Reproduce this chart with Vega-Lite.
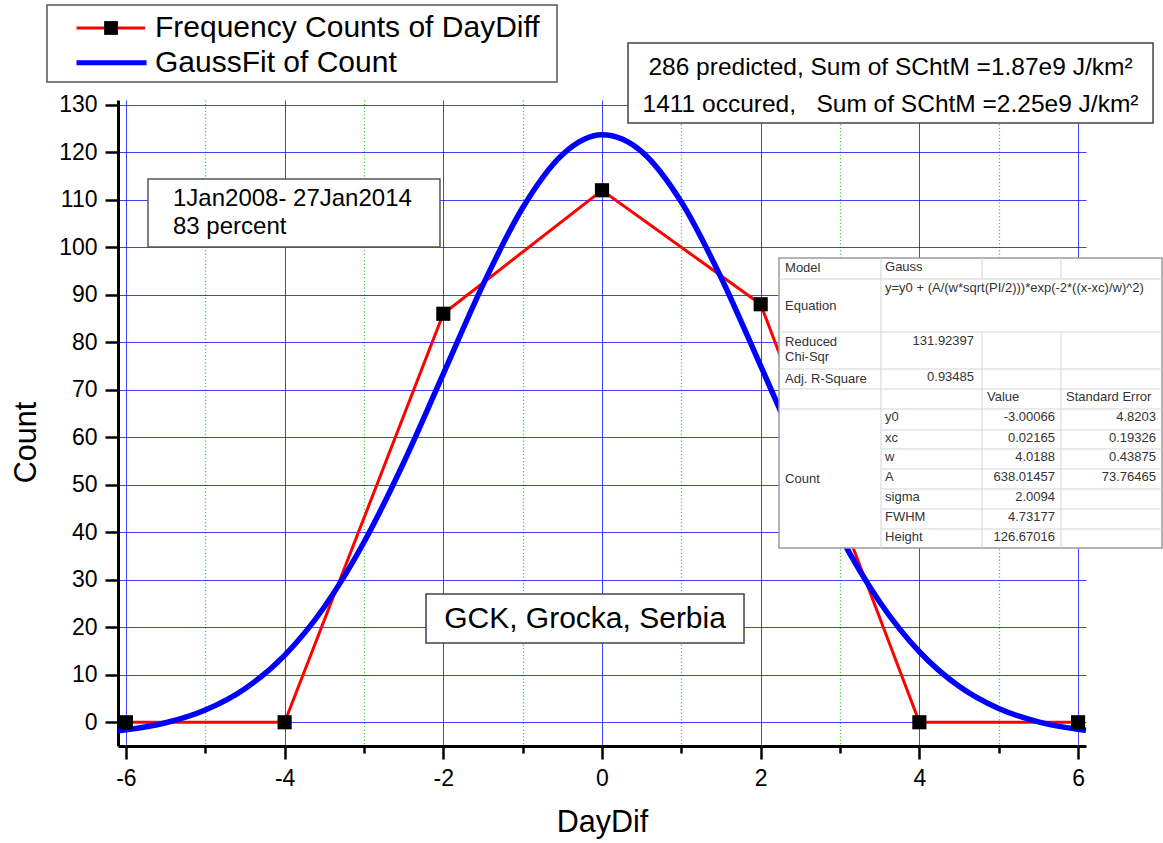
{
  "$schema": "https://vega.github.io/schema/vega-lite/v6.json",
  "width": 968,
  "height": 646,
  "autosize": {"type": "none"},
  "padding": {"left": 118, "top": 100, "right": 77, "bottom": 97},
  "background": "white",
  "config": {"view": {"stroke": null}, "font": "Liberation Sans"},
  "datasets": {
    "freq": [
      {"DayDif": -6, "Count": 0},
      {"DayDif": -4, "Count": 0},
      {"DayDif": -2, "Count": 86},
      {"DayDif": 0, "Count": 112},
      {"DayDif": 2, "Count": 88},
      {"DayDif": 4, "Count": 0},
      {"DayDif": 6, "Count": 0}
    ],
    "gauss": [
      {"DayDif": -6.1, "Count": -1.78},
      {"DayDif": -6.0, "Count": -1.58},
      {"DayDif": -5.5, "Count": -0.10},
      {"DayDif": -5.0, "Count": 2.58},
      {"DayDif": -4.5, "Count": 7.07},
      {"DayDif": -4.0, "Count": 14.09},
      {"DayDif": -3.5, "Count": 24.27},
      {"DayDif": -3.0, "Count": 37.89},
      {"DayDif": -2.5, "Count": 54.64},
      {"DayDif": -2.0, "Count": 73.36},
      {"DayDif": -1.5, "Count": 92.09},
      {"DayDif": -1.0, "Count": 108.31},
      {"DayDif": -0.5, "Count": 119.47},
      {"DayDif": 0.0, "Count": 123.66},
      {"DayDif": 0.5, "Count": 120.13},
      {"DayDif": 1.0, "Count": 109.51},
      {"DayDif": 1.5, "Count": 93.64},
      {"DayDif": 2.0, "Count": 75.02},
      {"DayDif": 2.5, "Count": 56.20},
      {"DayDif": 3.0, "Count": 39.23},
      {"DayDif": 3.5, "Count": 25.31},
      {"DayDif": 4.0, "Count": 14.84},
      {"DayDif": 4.5, "Count": 7.57},
      {"DayDif": 5.0, "Count": 2.89},
      {"DayDif": 5.5, "Count": 0.08},
      {"DayDif": 6.0, "Count": -1.49},
      {"DayDif": 6.1, "Count": -1.70}
    ],
    "tgrid": [
      {"x": 2.231, "x2": 7.058, "y": 93.32, "y2": 93.32},
      {"x": 2.231, "x2": 7.058, "y": 82.16, "y2": 82.16},
      {"x": 2.231, "x2": 7.058, "y": 74.37, "y2": 74.37},
      {"x": 2.231, "x2": 7.058, "y": 70.16, "y2": 70.16},
      {"x": 2.231, "x2": 7.058, "y": 65.95, "y2": 65.95},
      {"x": 3.516, "x2": 7.058, "y": 61.53, "y2": 61.53},
      {"x": 3.516, "x2": 7.058, "y": 57.53, "y2": 57.53},
      {"x": 3.516, "x2": 7.058, "y": 53.32, "y2": 53.32},
      {"x": 3.516, "x2": 7.058, "y": 49.11, "y2": 49.11},
      {"x": 3.516, "x2": 7.058, "y": 44.89, "y2": 44.89},
      {"x": 3.516, "x2": 7.058, "y": 40.68, "y2": 40.68},
      {"x": 3.516, "x2": 3.516, "y": 97.74, "y2": 36.68},
      {"x": 4.789, "x2": 4.789, "y": 97.74, "y2": 93.32},
      {"x": 4.789, "x2": 4.789, "y": 82.16, "y2": 36.68},
      {"x": 5.785, "x2": 5.785, "y": 97.74, "y2": 93.32},
      {"x": 5.785, "x2": 5.785, "y": 82.16, "y2": 36.68}
    ],
    "tleft": [
      {"t": "Model", "x": 2.307, "y": 95.63},
      {"t": "Gauss", "x": 3.567, "y": 95.75},
      {"t": "y=y0 + (A/(w*sqrt(PI/2)))*exp(-2*((x-xc)/w)^2)", "x": 3.567, "y": 91.42},
      {"t": "Equation", "x": 2.307, "y": 87.63},
      {"t": "Reduced", "x": 2.307, "y": 80.05},
      {"t": "Chi-Sqr", "x": 2.307, "y": 76.89},
      {"t": "Adj. R-Square", "x": 2.307, "y": 72.26},
      {"t": "Value", "x": 4.852, "y": 68.47},
      {"t": "Standard Error", "x": 5.848, "y": 68.47},
      {"t": "Count", "x": 2.307, "y": 51.21},
      {"t": "y0", "x": 3.567, "y": 64.26},
      {"t": "xc", "x": 3.567, "y": 59.84},
      {"t": "w", "x": 3.567, "y": 55.84},
      {"t": "A", "x": 3.567, "y": 51.63},
      {"t": "sigma", "x": 3.567, "y": 47.42},
      {"t": "FWHM", "x": 3.567, "y": 43.21},
      {"t": "Height", "x": 3.567, "y": 39.0}
    ],
    "tright": [
      {"t": "131.92397", "x": 4.689, "y": 80.26},
      {"t": "0.93485", "x": 4.689, "y": 72.68},
      {"t": "-3.00066", "x": 5.709, "y": 64.26},
      {"t": "0.02165", "x": 5.709, "y": 59.84},
      {"t": "4.0188", "x": 5.709, "y": 55.84},
      {"t": "638.01457", "x": 5.709, "y": 51.63},
      {"t": "2.0094", "x": 5.709, "y": 47.42},
      {"t": "4.73177", "x": 5.709, "y": 43.21},
      {"t": "126.67016", "x": 5.709, "y": 39.0},
      {"t": "4.8203", "x": 6.982, "y": 64.26},
      {"t": "0.19326", "x": 6.982, "y": 59.84},
      {"t": "0.43875", "x": 6.982, "y": 55.84},
      {"t": "73.76465", "x": 6.982, "y": 51.63}
    ]
  },
  "layer": [
    {
      "data": {"name": "freq"},
      "mark": {"type": "line", "color": "#ff0000", "strokeWidth": 3},
      "encoding": {
        "x": {
          "field": "DayDif", "type": "quantitative", "title": "DayDif",
          "scale": {"domain": [-6.1, 6.1], "nice": false, "zero": false},
          "axis": {
            "title": "DayDif",
            "values": [-6, -5, -4, -3, -2, -1, 0, 1, 2, 3, 4, 5, 6],
            "labelExpr": "datum.value % 2 === 0 ? '' + datum.value : ''",
            "labelOverlap": false, "labelFlush": false,
            "labelFont": "Liberation Sans", "labelFontSize": 23, "labelColor": "#000000", "labelPadding": 8,
            "titleFont": "Liberation Sans", "titleFontSize": 30.5, "titleFontWeight": "normal", "titleColor": "#000000", "titlePadding": 17,
            "domainColor": "#000000", "domainWidth": 3,
            "tickColor": "#000000", "tickWidth": 2.5,
            "tickSize": {"condition": {"test": "datum.value % 2 === 0", "value": 13}, "value": 7},
            "grid": true,
            "gridColor": {"condition": {"test": "datum.value % 2 === 0", "value": "#0000ff"}, "value": "#3fd23f"},
            "gridDash": {"condition": {"test": "datum.value % 2 === 0", "value": []}, "value": [1.2, 2.2]},
            "gridOpacity": {"condition": {"test": "datum.value % 2 === 0", "value": 0.75}, "value": 1},
            "gridWidth": {"condition": {"test": "datum.value % 2 === 0", "value": 1}, "value": 1.3}
          }
        },
        "y": {
          "field": "Count", "type": "quantitative", "title": "Count",
          "scale": {"domain": [-5, 131], "nice": false, "zero": false},
          "axis": {
            "title": "Count",
            "titleY": 342,
            "values": [0, 5, 10, 15, 20, 25, 30, 35, 40, 45, 50, 55, 60, 65, 70, 75, 80, 85, 90, 95, 100, 105, 110, 115, 120, 125, 130],
            "labelExpr": "datum.value % 10 === 0 ? '' + datum.value : ''",
            "labelOverlap": false, "labelFlush": false,
            "labelFont": "Liberation Sans", "labelFontSize": 23, "labelColor": "#000000", "labelPadding": 8,
            "titleFont": "Liberation Sans", "titleFontSize": 30.5, "titleFontWeight": "normal", "titleColor": "#000000", "titlePadding": 17,
            "domainColor": "#000000", "domainWidth": 3,
            "tickColor": "#000000", "tickWidth": 2.5,
            "tickSize": {"condition": {"test": "datum.value % 10 === 0", "value": 13}, "value": 7},
            "grid": true,
            "gridColor": {"condition": {"test": "datum.value % 10 === 0", "value": "#0000ff"}, "value": "#3fd23f"},
            "gridDash": {"condition": {"test": "datum.value % 10 === 0", "value": []}, "value": [1.2, 2.2]},
            "gridOpacity": {"condition": {"test": "datum.value % 10 === 0", "value": 0.75}, "value": 1},
            "gridWidth": {"condition": {"test": "datum.value % 10 === 0", "value": 1}, "value": 1.3}
          }
        }
      }
    },
    {
      "data": {"name": "gauss"},
      "mark": {"type": "line", "color": "#0000ff", "strokeWidth": 5.5, "interpolate": "monotone"},
      "encoding": {
        "x": {"field": "DayDif", "type": "quantitative", "title": "DayDif", "scale": {"domain": [-6.1, 6.1]}},
        "y": {"field": "Count", "type": "quantitative", "title": "Count", "scale": {"domain": [-5, 131]}}
      }
    },
    {
      "data": {"name": "freq"},
      "mark": {"type": "point", "shape": "square", "filled": true, "color": "#000000", "opacity": 1, "size": 200},
      "encoding": {
        "x": {"field": "DayDif", "type": "quantitative", "title": "DayDif", "scale": {"domain": [-6.1, 6.1]}},
        "y": {"field": "Count", "type": "quantitative", "title": "Count", "scale": {"domain": [-5, 131]}}
      }
    },
    {
      "data": {"values": [{}]},
      "mark": {"type": "rect", "fill": "#ffffff", "stroke": "#555555", "strokeWidth": 1.5},
      "encoding": {
        "x": {"datum": -5.722, "type": "quantitative", "title": "DayDif", "scale": {"domain": [-6.1, 6.1]}},
        "x2": {"datum": -2.042},
        "y": {"datum": 114.37, "type": "quantitative", "title": "Count", "scale": {"domain": [-5, 131]}},
        "y2": {"datum": 100.05}
      }
    },
    {
      "data": {"values": [{}]},
      "mark": {"type": "text", "align": "left", "baseline": "middle", "font": "Liberation Sans", "fontSize": 24, "color": "#000000"},
      "encoding": {
        "x": {"datum": -5.407, "type": "quantitative", "title": "DayDif", "scale": {"domain": [-6.1, 6.1]}},
        "y": {"datum": 110.22, "type": "quantitative", "title": "Count", "scale": {"domain": [-5, 131]}},
        "text": {"value": "1Jan2008- 27Jan2014"}
      }
    },
    {
      "data": {"values": [{}]},
      "mark": {"type": "text", "align": "left", "baseline": "middle", "font": "Liberation Sans", "fontSize": 24, "color": "#000000"},
      "encoding": {
        "x": {"datum": -5.407, "type": "quantitative", "title": "DayDif", "scale": {"domain": [-6.1, 6.1]}},
        "y": {"datum": 104.26, "type": "quantitative", "title": "Count", "scale": {"domain": [-5, 131]}},
        "text": {"value": "83 percent"}
      }
    },
    {
      "data": {"values": [{}]},
      "mark": {"type": "rect", "fill": "#ffffff", "stroke": "#444444", "strokeWidth": 1.5},
      "encoding": {
        "x": {"datum": -2.218, "type": "quantitative", "title": "DayDif", "scale": {"domain": [-6.1, 6.1]}},
        "x2": {"datum": 1.79},
        "y": {"datum": 27.0, "type": "quantitative", "title": "Count", "scale": {"domain": [-5, 131]}},
        "y2": {"datum": 16.68}
      }
    },
    {
      "data": {"values": [{}]},
      "mark": {"type": "text", "align": "center", "baseline": "middle", "font": "Liberation Sans", "fontSize": 30, "color": "#000000"},
      "encoding": {
        "x": {"datum": -0.214, "type": "quantitative", "title": "DayDif", "scale": {"domain": [-6.1, 6.1]}},
        "y": {"datum": 21.74, "type": "quantitative", "title": "Count", "scale": {"domain": [-5, 131]}},
        "text": {"value": "GCK, Grocka, Serbia"}
      }
    },
    {
      "data": {"values": [{}]},
      "mark": {"type": "rect", "fill": "#ffffff", "stroke": "#444444", "strokeWidth": 1.5},
      "encoding": {
        "x": {"datum": 0.328, "type": "quantitative", "title": "DayDif", "scale": {"domain": [-6.1, 6.1]}},
        "x2": {"datum": 6.945},
        "y": {"datum": 143.0, "type": "quantitative", "title": "Count", "scale": {"domain": [-5, 131]}},
        "y2": {"datum": 126.16}
      }
    },
    {
      "data": {"values": [{}]},
      "mark": {"type": "text", "align": "center", "baseline": "middle", "font": "Liberation Sans", "fontSize": 24.5, "color": "#000000"},
      "encoding": {
        "x": {"datum": 3.636, "type": "quantitative", "title": "DayDif", "scale": {"domain": [-6.1, 6.1]}},
        "y": {"datum": 137.74, "type": "quantitative", "title": "Count", "scale": {"domain": [-5, 131]}},
        "text": {"value": "286 predicted, Sum of SChtM =1.87e9 J/km²"}
      }
    },
    {
      "data": {"values": [{}]},
      "mark": {"type": "text", "align": "center", "baseline": "middle", "font": "Liberation Sans", "fontSize": 24.5, "color": "#000000"},
      "encoding": {
        "x": {"datum": 3.636, "type": "quantitative", "title": "DayDif", "scale": {"domain": [-6.1, 6.1]}},
        "y": {"datum": 129.95, "type": "quantitative", "title": "Count", "scale": {"domain": [-5, 131]}},
        "text": {"value": "1411 occured,\u00a0\u00a0 Sum of SChtM =2.25e9 J/km²"}
      }
    },
    {
      "data": {"values": [{}]},
      "mark": {"type": "rect", "fill": "#ffffff", "stroke": "#555555", "strokeWidth": 1.5},
      "encoding": {
        "x": {"datum": -6.995, "type": "quantitative", "title": "DayDif", "scale": {"domain": [-6.1, 6.1]}},
        "x2": {"datum": -0.567},
        "y": {"datum": 151.0, "type": "quantitative", "title": "Count", "scale": {"domain": [-5, 131]}},
        "y2": {"datum": 134.79}
      }
    },
    {
      "data": {"values": [{}]},
      "mark": {"type": "rule", "color": "#ff0000", "strokeWidth": 3},
      "encoding": {
        "x": {"datum": -6.623, "type": "quantitative", "title": "DayDif", "scale": {"domain": [-6.1, 6.1]}},
        "x2": {"datum": -5.76},
        "y": {"datum": 146.16, "type": "quantitative", "title": "Count", "scale": {"domain": [-5, 131]}}
      }
    },
    {
      "data": {"values": [{}]},
      "mark": {"type": "point", "shape": "square", "filled": true, "color": "#000000", "opacity": 1, "size": 190},
      "encoding": {
        "x": {"datum": -6.188, "type": "quantitative", "title": "DayDif", "scale": {"domain": [-6.1, 6.1]}},
        "y": {"datum": 146.16, "type": "quantitative", "title": "Count", "scale": {"domain": [-5, 131]}}
      }
    },
    {
      "data": {"values": [{}]},
      "mark": {"type": "rule", "color": "#0000ff", "strokeWidth": 5},
      "encoding": {
        "x": {"datum": -6.623, "type": "quantitative", "title": "DayDif", "scale": {"domain": [-6.1, 6.1]}},
        "x2": {"datum": -5.74},
        "y": {"datum": 138.85, "type": "quantitative", "title": "Count", "scale": {"domain": [-5, 131]}}
      }
    },
    {
      "data": {"values": [{}]},
      "mark": {"type": "text", "align": "left", "baseline": "middle", "font": "Liberation Sans", "fontSize": 30, "color": "#000000"},
      "encoding": {
        "x": {"datum": -5.634, "type": "quantitative", "title": "DayDif", "scale": {"domain": [-6.1, 6.1]}},
        "y": {"datum": 146.16, "type": "quantitative", "title": "Count", "scale": {"domain": [-5, 131]}},
        "text": {"value": "Frequency Counts of DayDiff"}
      }
    },
    {
      "data": {"values": [{}]},
      "mark": {"type": "text", "align": "left", "baseline": "middle", "font": "Liberation Sans", "fontSize": 30, "color": "#000000"},
      "encoding": {
        "x": {"datum": -5.634, "type": "quantitative", "title": "DayDif", "scale": {"domain": [-6.1, 6.1]}},
        "y": {"datum": 138.89, "type": "quantitative", "title": "Count", "scale": {"domain": [-5, 131]}},
        "text": {"value": "GaussFit of Count"}
      }
    },
    {
      "data": {"values": [{}]},
      "mark": {"type": "rect", "fill": "#ffffff", "stroke": "#9a9a9a", "strokeWidth": 1.5},
      "encoding": {
        "x": {"datum": 2.231, "type": "quantitative", "title": "DayDif", "scale": {"domain": [-6.1, 6.1]}},
        "x2": {"datum": 7.058},
        "y": {"datum": 97.74, "type": "quantitative", "title": "Count", "scale": {"domain": [-5, 131]}},
        "y2": {"datum": 36.68}
      }
    },
    {
      "data": {"name": "tgrid"},
      "mark": {"type": "rule", "color": "#d6d6d6", "strokeWidth": 1},
      "encoding": {
        "x": {"field": "x", "type": "quantitative", "title": "DayDif", "scale": {"domain": [-6.1, 6.1]}},
        "x2": {"field": "x2"},
        "y": {"field": "y", "type": "quantitative", "title": "Count", "scale": {"domain": [-5, 131]}},
        "y2": {"field": "y2"}
      }
    },
    {
      "data": {"name": "tleft"},
      "mark": {"type": "text", "align": "left", "baseline": "middle", "font": "Liberation Sans", "fontSize": 13, "color": "#333333"},
      "encoding": {
        "x": {"field": "x", "type": "quantitative", "title": "DayDif", "scale": {"domain": [-6.1, 6.1]}},
        "y": {"field": "y", "type": "quantitative", "title": "Count", "scale": {"domain": [-5, 131]}},
        "text": {"field": "t"}
      }
    },
    {
      "data": {"name": "tright"},
      "mark": {"type": "text", "align": "right", "baseline": "middle", "font": "Liberation Sans", "fontSize": 13, "color": "#333333"},
      "encoding": {
        "x": {"field": "x", "type": "quantitative", "title": "DayDif", "scale": {"domain": [-6.1, 6.1]}},
        "y": {"field": "y", "type": "quantitative", "title": "Count", "scale": {"domain": [-5, 131]}},
        "text": {"field": "t"}
      }
    }
  ]
}
